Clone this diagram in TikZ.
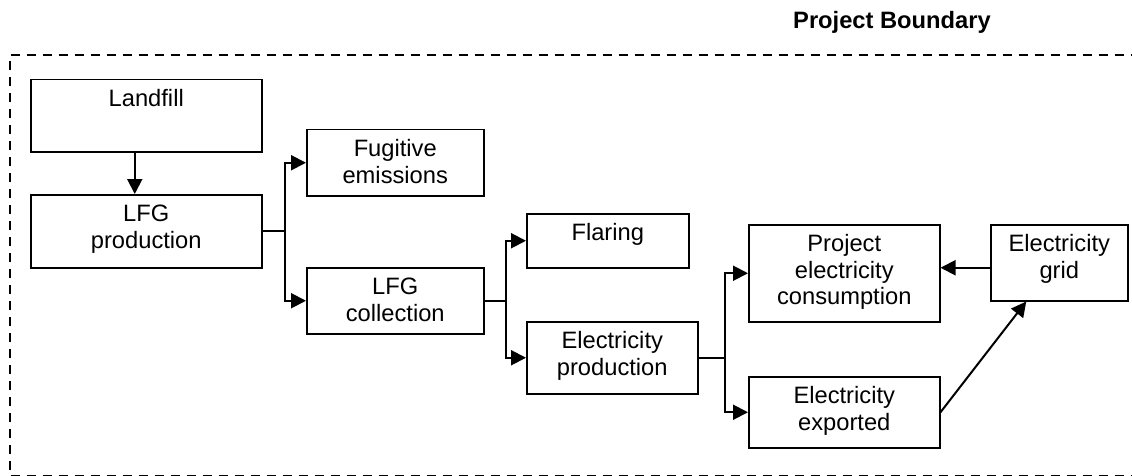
\documentclass[tikz,border=0pt]{standalone}
\usepackage{fontspec}
\setmainfont{Liberation Sans}
\usetikzlibrary{arrows.meta}

% text of a box, set at its top
\newcommand\boxtxt[3]{\parbox[c][#2pt][t]{#1pt}{\centering\rule{0pt}{27pt}#3}}

\tikzset{
  blk/.style={draw, line width=1.5pt, anchor=north west, inner sep=0pt},
  link/.style={line width=2pt},
  arr/.style={link, -{Triangle[length=15pt,width=15pt]}},
}

\begin{document}
\begin{tikzpicture}[x=1pt,y=-1pt,font=\fontsize{23.7}{26.5}\selectfont]
      \clip (0,0) rectangle (1132,476);

      % project boundary
      \draw[line width=2.8pt, dash pattern=on 9pt off 7pt] (1140,55) -| (10,476) -- (1140,476);
      \node[anchor=base west, inner sep=0pt, font=\fontsize{23.7}{26.5}\selectfont\bfseries] (title) at (793,29) {Project Boundary};

      \node[blk] (landfill) at (30,79)   {\boxtxt{231}{72}{Landfill}};
      \node[blk] (lfgprod)  at (30,194)  {\boxtxt{231}{73}{LFG\\production}};
      \node[blk] (fugitive) at (306,129) {\boxtxt{177}{66}{Fugitive\\emissions}};
      \node[blk] (lfgcoll)  at (306,267) {\boxtxt{177}{66}{LFG\\collection}};
      \node[blk] (flaring)  at (526,213) {\boxtxt{162}{54}{Flaring}};
      \node[blk] (elecprod) at (526,321) {\boxtxt{171}{72}{Electricity\\production}};
      \node[blk] (pec)      at (748,224) {\boxtxt{191}{97}{Project\\electricity\\consumption}};
      \node[blk] (exported) at (748,376) {\boxtxt{191}{71}{Electricity\\exported}};
      \node[blk] (grid)     at (990,224) {\boxtxt{137}{76}{Electricity\\grid}};

      \coordinate (split1) at ([xshift=22pt]lfgprod.east);
      \coordinate (split2) at ([xshift=21pt]lfgcoll.east);
      \coordinate (split3) at ([xshift=26pt]elecprod.east);

      \draw[arr] ([xshift=-11.5pt]landfill.south) -- ([xshift=-11.5pt]lfgprod.north);

      \draw[link] (lfgprod.east) -- (split1);
      \draw[arr] (split1) |- (fugitive.west);
      \draw[arr] (split1) |- (lfgcoll.west);

      \draw[link] (lfgcoll.east) -- (split2);
      \draw[arr] (split2) |- (flaring.west);
      \draw[arr] (split2) |- (elecprod.west);

      \draw[link] (elecprod.east) -- (split3);
      \draw[arr] (split3) |- (pec.west);
      \draw[arr] (split3) |- (exported.west);

      \draw[arr] ([yshift=-5pt]grid.west) -- ([yshift=-5pt]grid.west -| pec.east);
      \draw[arr] (exported.east) -- ([xshift=-33pt]grid.south);
    \end{tikzpicture}
\end{document}
